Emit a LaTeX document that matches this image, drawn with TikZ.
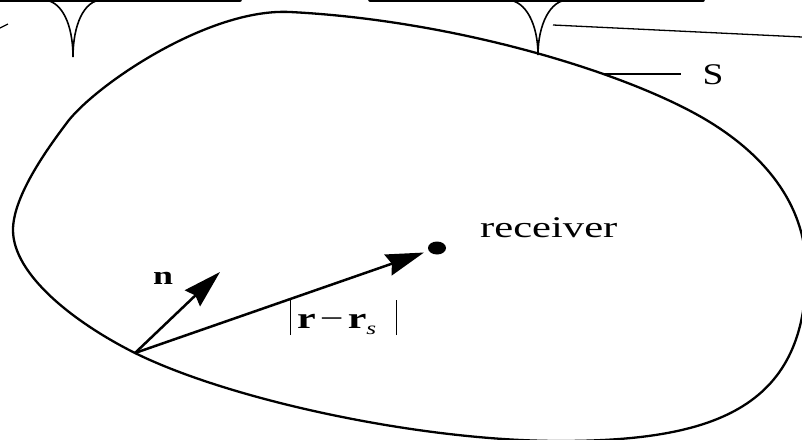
\documentclass[tikz,border=0pt]{standalone}
\usepackage{fontspec}
\setmainfont{Liberation Serif}
\usetikzlibrary{arrows.meta,shapes.geometric}
\begin{document}
\begin{tikzpicture}[x=1pt,y=-1pt,
  surf/.style={line width=2.3pt, line join=round},
  thinline/.style={line width=1.3pt},
  cusp/.style={line width=1.6pt},
  band/.style={line width=3.6pt, line cap=round},
  vec/.style={line width=2.5pt, -{Stealth[length=38pt,width=22pt,inset=4pt]}},
  lbl/.style={inner sep=0pt, font=\fontsize{30}{36}\selectfont}]
\useasboundingbox (0,0) rectangle (802,439);
% top band with cusps
\draw[band] (0,0) -- (240,0);
\draw[band] (370,0) -- (703,0);
\draw[cusp] (43,0) .. controls (62,0) and (73,25) .. (73,57) .. controls (73,25) and (84,0) .. (102,0);
\draw[cusp] (507,0) .. controls (526,0) and (538,25) .. (538,55) .. controls (538,25) and (550,0) .. (568,0);
\draw[thinline] (0,28) -- (8,24);
\draw[thinline] (553,25) -- (802,37);
% surface S
\coordinate (o) at (135,353);
\draw[surf] (290,12) .. controls (450,20) and (620,70) .. coordinate[pos=0.69] (sl) (703,118)
  .. controls (770,157) and (807,210) .. (806,272)
  .. controls (806,410) and (710,441) .. (560,441)
  .. controls (420,441) and (230,400) .. (o)
  .. controls (75,323) and (13,275) .. (13,230)
  .. controls (13,195) and (50,145) .. (69,120)
  .. controls (100,82) and (210,8) .. (290,12) -- cycle;
% labels
\node[lbl] (stxt) at (713,75) {\scalebox{1.25}[1]{S}};
\draw[thinline] (sl) -- ([xshift=-21pt]stxt.west |- sl);
\node[lbl, anchor=base west] (rtxt) at (480,237) {\scalebox{1.42}[1]{receiver}};
\node[lbl, font=\fontsize{26}{30}\selectfont\bfseries] (ntxt) at (163,278) {\scalebox{1.38}[1]{n}};
\node[lbl, anchor=base west] (dist) at (290,328) {\scalebox{1.4}[1]{\rule[-7pt]{0.9pt}{35pt}\kern4pt\textbf{r}\kern3pt\symbol{"2212}\kern3pt\textbf{r}\raisebox{-6pt}{\fontsize{18}{20}\selectfont\itshape s}\kern14pt\rule[-7pt]{0.9pt}{35pt}}};
% vectors
\coordinate (ntip) at (220,272);
\node[ellipse, fill, inner sep=0pt, minimum width=18pt, minimum height=13pt] (rcv) at (437,248) {};
\draw[vec] (o) -- (ntip);
\draw[vec, shorten >=5pt] (o) -- (rcv);
\end{tikzpicture}
\end{document}
